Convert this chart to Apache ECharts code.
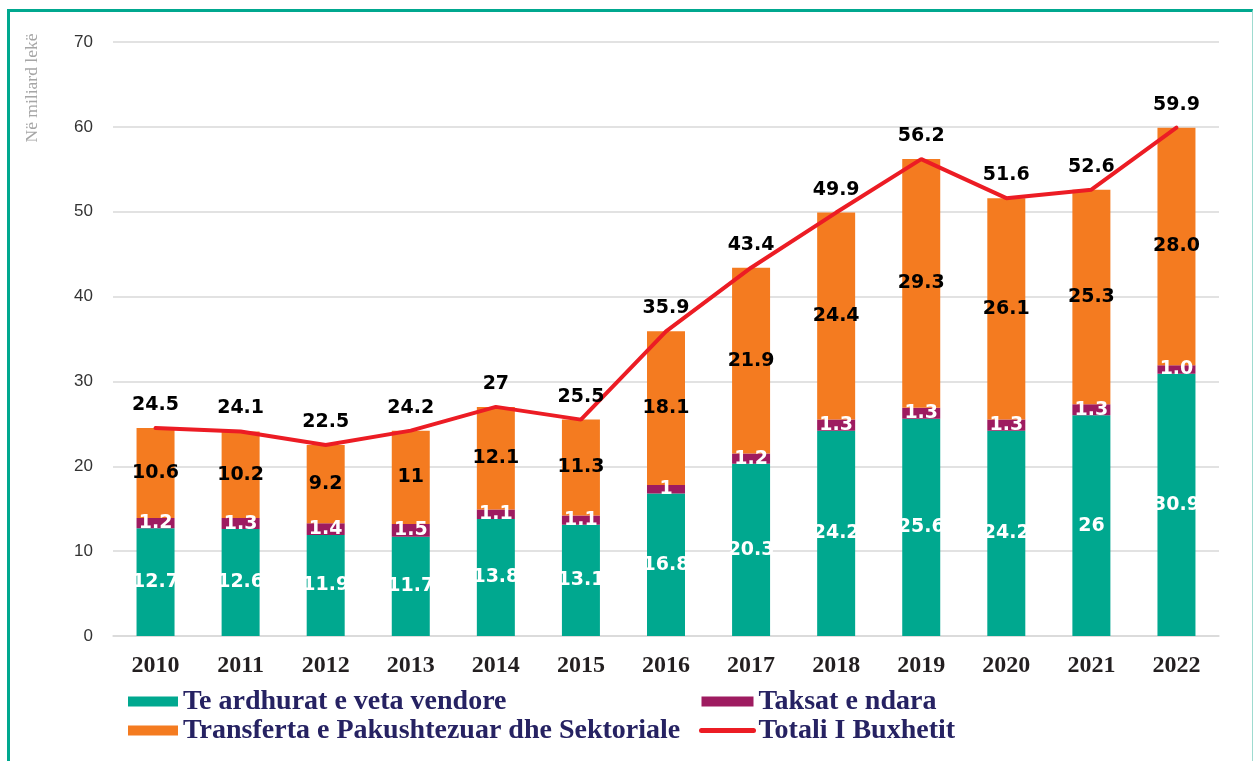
<!DOCTYPE html>
<html>
<head>
<meta charset="utf-8">
<script src="https://cdn.jsdelivr.net/npm/echarts@6/dist/echarts.min.js"></script>
<style>
  html, body { margin: 0; padding: 0; background: #fff; }
  #frame { position: absolute; left: 7px; top: 9px; width: 1246px; height: 800px;
           border-left: 3px solid #00A88F; border-top: 3px solid #00A88F; border-right: 1px solid #9edbd0; box-sizing: border-box; }
  #chart { position: absolute; left: 0; top: 0; width: 1255px; height: 761px; }
</style>
</head>
<body>
<div id="frame"></div>
<div id="chart"></div>
<script>
const years = ['2010','2011','2012','2013','2014','2015','2016','2017','2018','2019','2020','2021','2022'];
const ownRevenue = [12.7, 12.6, 11.9, 11.7, 13.8, 13.1, 16.8, 20.3, 24.2, 25.6, 24.2, 26, 30.9];
const sharedTaxes = [1.2, 1.3, 1.4, 1.5, 1.1, 1.1, 1, 1.2, 1.3, 1.3, 1.3, 1.3, 1.0];
const transfers = [10.6, 10.2, 9.2, 11, 12.1, 11.3, 18.1, 21.9, 24.4, 29.3, 26.1, 25.3, 28.0];
const totalBudget = [24.5, 24.1, 22.5, 24.2, 27, 25.5, 35.9, 43.4, 49.9, 56.2, 51.6, 52.6, 59.9];
const yTicks = { min: 0, max: 70, interval: 10 };

const names = {
  own: 'Te ardhurat e veta vendore',
  shared: 'Taksat e ndara',
  transfers: 'Transferta e Pakushtezuar dhe Sektoriale',
  total: 'Totali I Buxhetit'
};

function fmt(p) {
  return p.dataIndex === years.length - 1 ? Number(p.value).toFixed(1) : String(p.value);
}

const labelFont = 'DejaVu Sans';
const barLabel = (color) => ({
  show: true, position: 'inside', color: color, fontFamily: labelFont,
  fontWeight: 'bold', fontSize: 19, formatter: fmt
});
const legendText = { color: '#262262', fontFamily: 'Liberation Serif', fontWeight: 'bold', fontSize: 28, lineHeight: 29 };

const chart = echarts.init(document.getElementById('chart'), null, { renderer: 'canvas' });
chart.setOption({
  animation: false,
  grid: { left: 113, right: 36, top: 42, bottom: 125 },
  xAxis: {
    type: 'category', data: years,
    axisLine: { lineStyle: { color: '#d9d9d9', width: 1.5 } },
    axisTick: { show: false },
    axisLabel: { color: '#231f20', fontFamily: 'Liberation Serif', fontWeight: 'bold', fontSize: 24, margin: 18 }
  },
  yAxis: {
    type: 'value', min: yTicks.min, max: yTicks.max, interval: yTicks.interval,
    axisLine: { show: false }, axisTick: { show: false },
    splitLine: { lineStyle: { color: '#d9d9d9', width: 1.5 } },
    axisLabel: { color: '#333', fontFamily: '"Liberation Sans Narrow", "Liberation Sans"', fontSize: 17, margin: 20 }
  },
  legend: [
    {
      data: [{ name: names.own, icon: 'rect' }, { name: names.transfers, icon: 'rect' }],
      orient: 'vertical', left: 128, top: 687, padding: 0,
      itemWidth: 50, itemHeight: 10, itemGap: 0, textStyle: legendText
    },
    {
      data: [{ name: names.shared, icon: 'rect' }, { name: names.total, itemStyle: { opacity: 0 } }],
      orient: 'vertical', left: 699, top: 687, padding: 0,
      itemWidth: 52, itemHeight: 10, itemGap: 0, textStyle: legendText,
      lineStyle: { width: 5, cap: 'round' }
    }
  ],
  graphic: [
    {
      type: 'text', x: 32, y: 88, rotation: Math.PI / 2,
      style: { text: 'Në miliard lekë', fill: '#a6a6a6', font: '17.5px "Liberation Serif"', textAlign: 'center', textVerticalAlign: 'middle' }
    }
  ],
  series: [
    {
      name: names.own, type: 'bar', stack: 'b', data: ownRevenue, barWidth: 38,
      itemStyle: { color: '#00A88F' }, label: barLabel('#ffffff')
    },
    {
      name: names.shared, type: 'bar', stack: 'b', data: sharedTaxes, barWidth: 38,
      itemStyle: { color: '#9E1B60' }, label: barLabel('#ffffff')
    },
    {
      name: names.transfers, type: 'bar', stack: 'b', data: transfers, barWidth: 38,
      itemStyle: { color: '#F47B20' }, label: barLabel('#000000')
    },
    {
      name: names.total, type: 'line', data: totalBudget, symbol: 'circle', symbolSize: 1, showSymbol: true, z: 5,
      lineStyle: { color: '#EC1C24', width: 4, cap: 'round' },
      itemStyle: { color: '#EC1C24', opacity: 0 },
      label: {
        show: true, position: 'top', distance: 13, color: '#000', fontFamily: labelFont,
        fontWeight: 'bold', fontSize: 19, formatter: fmt, opacity: 1
      }
    }
  ]
});
</script>
</body>
</html>
